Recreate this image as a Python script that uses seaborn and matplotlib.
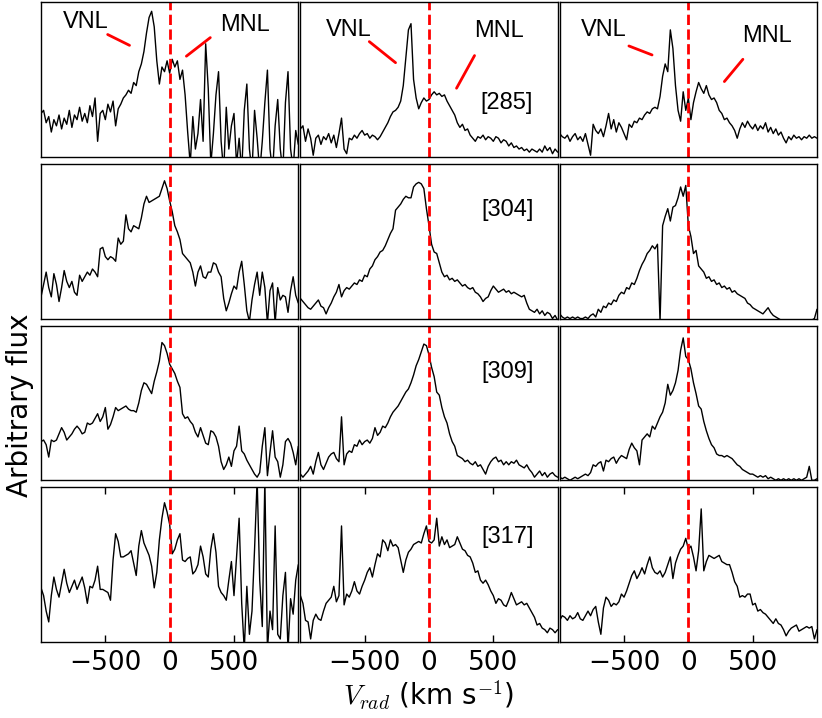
import numpy as np
import pandas as pd
import matplotlib
matplotlib.use("Agg")
import matplotlib.pyplot as plt
import seaborn as sns

# -------------------------
# Data (flux in panel units, 0 = bottom, 1 = top)
# -------------------------
velocity = [
    -1000, -980, -960, -940, -920, -900, -880, -860, -840, -820,
    -800, -780, -760, -740, -720, -700, -680, -660, -640, -620,
    -600, -580, -560, -540, -520, -500, -480, -460, -440, -420,
    -400, -380, -360, -340, -320, -300, -280, -260, -240, -220,
    -200, -180, -160, -140, -120, -100, -80, -60, -40, -20,
    0, 20, 40, 60, 80, 100, 120, 140, 160, 180,
    200, 220, 240, 260, 280, 300, 320, 340, 360, 380,
    400, 420, 440, 460, 480, 500, 520, 540, 560, 580,
    600, 620, 640, 660, 680, 700, 720, 740, 760, 780,
    800, 820, 840, 860, 880, 900, 920, 940, 960, 980,
    1000,
]

f285_1 = [
    0.28, 0.30, 0.22, 0.26, 0.16, 0.24, 0.20, 0.27, 0.18, 0.25,
    0.21, 0.30, 0.19, 0.27, 0.24, 0.32, 0.23, 0.28, 0.22, 0.33,
    0.26, 0.38, 0.10, 0.28, 0.30, 0.24, 0.34, 0.29, 0.36, 0.20,
    0.31, 0.34, 0.38, 0.40, 0.43, 0.41, 0.48, 0.46, 0.55, 0.60,
    0.68, 0.80, 0.90, 0.94, 0.84, 0.62, 0.47, 0.58, 0.55, 0.62,
    0.54, 0.63, 0.58, 0.62, 0.50, 0.56, 0.40, 0.16, -0.05, 0.26,
    0.05, 0.15, 0.37, 0.10, 0.73, 0.44, -0.05, 0.15, 0.40, 0.55,
    0.10, -0.10, 0.32, 0.05, 0.20, 0.28, -0.05, 0.12, -0.10, 0.30,
    0.47, 0.05, -0.10, 0.30, 0.12, -0.10, 0.10, 0.35, 0.56, 0.05,
    -0.10, 0.20, 0.37, 0.05, -0.10, 0.35, 0.55, 0.05, -0.08, 0.17,
    0.08,
]
f285_2 = [
    0.18, 0.20, 0.10, 0.18, 0.12, 0.01, 0.12, 0.14, 0.08, 0.13,
    0.11, 0.15, 0.09, 0.14, 0.06, 0.15, 0.25, 0.05, 0.02, 0.12,
    0.11, 0.14, 0.12, 0.15, 0.17, 0.14, 0.15, 0.12, 0.14, 0.13,
    0.11, 0.13, 0.16, 0.19, 0.22, 0.26, 0.29, 0.30, 0.32, 0.36,
    0.46, 0.64, 0.82, 0.86, 0.50, 0.38, 0.31, 0.35, 0.38, 0.36,
    0.37, 0.40, 0.42, 0.40, 0.41, 0.39, 0.40, 0.36, 0.33, 0.30,
    0.27, 0.22, 0.19, 0.21, 0.17, 0.18, 0.14, 0.12, 0.10, 0.13,
    0.12, 0.14, 0.11, 0.13, 0.12, 0.10, 0.13, 0.12, 0.09, 0.11,
    0.10, 0.07, 0.09, 0.06, 0.07, 0.05, 0.06, 0.04, 0.05, 0.03,
    0.05, 0.04, 0.03, 0.05, 0.03, 0.07, 0.04, 0.06, 0.02, 0.05,
    0.03,
]
f285_3 = [
    0.15, 0.13, 0.12, 0.14, 0.10, 0.13, 0.15, 0.11, 0.13, 0.10,
    0.15, 0.08, 0.01, 0.21, 0.17, 0.15, 0.18, 0.13, 0.20, 0.28,
    0.18, 0.24, 0.16, 0.22, 0.19, 0.15, 0.11, 0.21, 0.19, 0.23,
    0.22, 0.25, 0.24, 0.27, 0.29, 0.28, 0.31, 0.32, 0.31, 0.39,
    0.52, 0.60, 0.55, 0.82, 0.70, 0.46, 0.30, 0.23, 0.42, 0.30,
    0.38, 0.24, 0.35, 0.42, 0.48, 0.44, 0.41, 0.46, 0.40, 0.37,
    0.38, 0.35, 0.30, 0.28, 0.24, 0.25, 0.22, 0.20, 0.17, 0.12,
    0.18, 0.22, 0.19, 0.23, 0.20, 0.18, 0.21, 0.17, 0.20, 0.18,
    0.22, 0.16, 0.19, 0.15, 0.18, 0.14, 0.16, 0.12, 0.09, 0.13,
    0.11, 0.14, 0.12, 0.13, 0.11, 0.13, 0.12, 0.14, 0.12, 0.13,
    0.12,
]

f304_1 = [
    0.14, 0.22, 0.30, 0.20, 0.14, 0.29, 0.22, 0.11, 0.20, 0.31,
    0.24, 0.20, 0.24, 0.17, 0.15, 0.28, 0.24, 0.27, 0.30, 0.28,
    0.32, 0.30, 0.27, 0.45, 0.46, 0.40, 0.38, 0.40, 0.39, 0.37,
    0.52, 0.48, 0.50, 0.67, 0.58, 0.56, 0.60, 0.59, 0.58, 0.65,
    0.74, 0.79, 0.75, 0.76, 0.77, 0.78, 0.79, 0.84, 0.89, 0.84,
    0.76, 0.69, 0.60, 0.56, 0.51, 0.42, 0.40, 0.38, 0.36, 0.30,
    0.21, 0.30, 0.34, 0.27, 0.26, 0.30, 0.30, 0.36, 0.35, 0.30,
    0.27, 0.13, 0.05, 0.10, 0.16, 0.21, 0.19, 0.30, 0.37, 0.22,
    0.05, -0.02, 0.12, 0.22, 0.30, 0.15, 0.30, 0.20, -0.03, 0.18,
    0.23, -0.03, 0.20, 0.12, 0.15, 0.14, 0.04, 0.18, 0.27, 0.15,
    0.10,
]
f304_2 = [
    0.13, 0.11, 0.09, 0.07, 0.06, 0.08, 0.10, 0.12, 0.08, 0.07,
    0.03, 0.07, 0.10, 0.14, 0.17, 0.22, 0.14, 0.18, 0.20, 0.19,
    0.21, 0.23, 0.22, 0.25, 0.24, 0.28, 0.27, 0.32, 0.34, 0.38,
    0.40, 0.43, 0.44, 0.47, 0.51, 0.55, 0.58, 0.70, 0.72, 0.74,
    0.77, 0.79, 0.78, 0.78, 0.85, 0.87, 0.88, 0.87, 0.84, 0.71,
    0.60, 0.48, 0.43, 0.42, 0.36, 0.30, 0.27, 0.28, 0.25, 0.26,
    0.24, 0.25, 0.23, 0.21, 0.22, 0.20, 0.19, 0.20, 0.17, 0.16,
    0.14, 0.11, 0.13, 0.14, 0.18, 0.21, 0.19, 0.17, 0.18, 0.19,
    0.17, 0.18, 0.16, 0.17, 0.16, 0.15, 0.14, 0.15, 0.10, 0.06,
    0.05, 0.04, 0.06, 0.03, 0.05, 0.02, 0.04, 0.03, 0.00, 0.02,
    -0.01,
]
f304_3 = [
    0.03, 0.01, 0.00, 0.01, 0.00, 0.01, 0.00, 0.01, 0.00, 0.00,
    0.01, 0.00, 0.02, 0.03, 0.01, 0.06, 0.04, 0.08, 0.07, 0.10,
    0.09, 0.12, 0.11, 0.15, 0.17, 0.16, 0.20, 0.19, 0.23, 0.22,
    0.26, 0.31, 0.35, 0.38, 0.42, 0.44, 0.47, 0.45, 0.48, -0.02,
    0.60, 0.66, 0.71, 0.63, 0.72, 0.73, 0.78, 0.85, 0.79, 0.86,
    0.60, 0.53, 0.42, 0.44, 0.34, 0.32, 0.30, 0.26, 0.27, 0.24,
    0.25, 0.22, 0.23, 0.20, 0.21, 0.19, 0.20, 0.17, 0.18, 0.16,
    0.15, 0.14, 0.13, 0.10, 0.09, 0.07, 0.06, 0.05, 0.04, 0.03,
    0.05, 0.07, 0.04, 0.02, 0.01, 0.00, -0.01, -0.01, -0.01, -0.01,
    -0.01, -0.01, -0.01, -0.01, -0.01, -0.01, -0.01, -0.01, -0.01, 0.00,
    0.06,
]

f309_1 = [
    0.25, 0.26, 0.23, 0.15, 0.26, 0.25, 0.26, 0.30, 0.34, 0.31,
    0.26, 0.28, 0.30, 0.33, 0.35, 0.33, 0.30, 0.31, 0.37, 0.36,
    0.37, 0.40, 0.43, 0.38, 0.41, 0.47, 0.33, 0.36, 0.41, 0.47,
    0.45, 0.46, 0.47, 0.48, 0.46, 0.45, 0.45, 0.44, 0.50, 0.58,
    0.63, 0.62, 0.59, 0.56, 0.64, 0.70, 0.77, 0.89, 0.87, 0.82,
    0.75, 0.72, 0.69, 0.64, 0.60, 0.43, 0.40, 0.41, 0.38, 0.36,
    0.31, 0.28, 0.34, 0.29, 0.24, 0.23, 0.32, 0.31, 0.28, 0.22,
    0.12, 0.07, 0.10, 0.15, 0.09, 0.19, 0.22, 0.35, 0.19, 0.17,
    0.13, 0.10, 0.07, 0.04, 0.02, 0.05, 0.22, 0.34, 0.03, 0.18,
    0.32, 0.15, 0.12, 0.02, 0.10, 0.25, 0.27, 0.24, 0.18, 0.10,
    0.22,
]
f309_2 = [
    0.04, 0.02, 0.04, 0.06, 0.09, 0.04, 0.12, 0.18, 0.10, 0.07,
    0.11, 0.15, 0.17, 0.18, 0.14, 0.12, 0.41, 0.10, 0.17, 0.19,
    0.18, 0.23, 0.22, 0.26, 0.23, 0.25, 0.26, 0.24, 0.27, 0.34,
    0.29, 0.31, 0.35, 0.34, 0.37, 0.41, 0.44, 0.46, 0.48, 0.51,
    0.54, 0.57, 0.59, 0.63, 0.68, 0.74, 0.78, 0.83, 0.88, 0.87,
    0.81, 0.73, 0.67, 0.57, 0.55, 0.47, 0.41, 0.37, 0.30, 0.25,
    0.22, 0.16, 0.15, 0.14, 0.12, 0.13, 0.11, 0.10, 0.12, 0.09,
    0.10, 0.07, 0.04, 0.09, 0.12, 0.14, 0.15, 0.12, 0.13, 0.10,
    0.12, 0.10, 0.12, 0.11, 0.13, 0.10, 0.09, 0.08, 0.10, 0.07,
    0.05, 0.02, 0.04, 0.06, 0.03, 0.05, 0.02, 0.04, 0.05, 0.03,
    0.02,
]
f309_3 = [
    0.02, 0.01, 0.02, 0.01, 0.00, 0.01, 0.02, 0.01, 0.02, 0.03,
    0.04, 0.03, 0.05, 0.10, 0.09, 0.11, 0.12, 0.06, 0.13, 0.12,
    0.14, 0.15, 0.11, 0.14, 0.16, 0.15, 0.14, 0.20, 0.24, 0.21,
    0.19, 0.10, 0.26, 0.28, 0.30, 0.28, 0.35, 0.33, 0.37, 0.41,
    0.44, 0.50, 0.62, 0.55, 0.58, 0.63, 0.71, 0.84, 0.92, 0.80,
    0.78, 0.72, 0.63, 0.56, 0.48, 0.46, 0.38, 0.32, 0.27, 0.23,
    0.21, 0.17, 0.16, 0.16, 0.15, 0.16, 0.15, 0.14, 0.12, 0.10,
    0.09, 0.07, 0.06, 0.05, 0.04, 0.04, 0.03, 0.02, 0.03, 0.02,
    0.03, 0.01, 0.02, 0.01, 0.00, 0.01, 0.00, 0.01, 0.00, 0.01,
    0.00, 0.01, 0.00, 0.01, 0.00, 0.01, 0.02, 0.09, 0.00, 0.00,
    0.01,
]

f317_1 = [
    0.35, 0.30, 0.20, 0.13, 0.30, 0.42, 0.34, 0.29, 0.38, 0.47,
    0.38, 0.32, 0.36, 0.40, 0.34, 0.38, 0.42, 0.35, 0.25, 0.36,
    0.35, 0.40, 0.49, 0.34, 0.34, 0.33, 0.32, 0.27, 0.53, 0.70,
    0.65, 0.55, 0.55, 0.56, 0.57, 0.59, 0.51, 0.43, 0.62, 0.72,
    0.64, 0.60, 0.56, 0.49, 0.35, 0.45, 0.66, 0.80, 0.90, 0.84,
    0.76, 0.57, 0.60, 0.66, 0.70, 0.53, 0.52, 0.54, 0.55, 0.44,
    0.46, 0.50, 0.62, 0.55, 0.44, 0.42, 0.60, 0.70, 0.58, 0.36,
    0.32, 0.30, 0.27, 0.40, 0.52, 0.30, 0.55, 0.80, 0.25, -0.05,
    0.36, 0.05, 0.20, 0.60, 1.05, 0.40, 0.10, 1.05, -0.05, 0.20,
    0.08, 0.75, 0.05, 0.02, 0.30, 0.45, -0.05, 0.28, 0.18, 0.40,
    0.50,
]
f317_2 = [
    0.30, 0.25, 0.14, 0.13, 0.02, 0.14, 0.18, 0.15, 0.14, 0.20,
    0.25, 0.27, 0.29, 0.36, 0.26, 0.30, 0.75, 0.24, 0.31, 0.29,
    0.33, 0.39, 0.33, 0.31, 0.36, 0.40, 0.45, 0.48, 0.42, 0.50,
    0.57, 0.55, 0.66, 0.64, 0.59, 0.66, 0.62, 0.63, 0.61, 0.53,
    0.45, 0.53, 0.58, 0.60, 0.63, 0.64, 0.65, 0.64, 0.70, 0.75,
    0.65, 0.64, 0.66, 0.80, 0.62, 0.68, 0.63, 0.66, 0.61, 0.62,
    0.63, 0.68, 0.64, 0.60, 0.59, 0.56, 0.55, 0.51, 0.45, 0.46,
    0.40, 0.38, 0.40, 0.37, 0.33, 0.30, 0.25, 0.28, 0.27, 0.24,
    0.23, 0.27, 0.32, 0.28, 0.24, 0.25, 0.26, 0.24, 0.25, 0.22,
    0.19, 0.16, 0.11, 0.12, 0.09, 0.08, 0.06, 0.09, 0.08, 0.06,
    0.08,
]
f317_3 = [
    0.14, 0.17, 0.16, 0.14, 0.17, 0.15, 0.16, 0.19, 0.15, 0.14,
    0.17, 0.20, 0.17, 0.21, 0.23, 0.13, 0.05, 0.22, 0.29, 0.27,
    0.23, 0.25, 0.24, 0.26, 0.31, 0.29, 0.33, 0.38, 0.43, 0.46,
    0.41, 0.44, 0.48, 0.44, 0.50, 0.55, 0.48, 0.45, 0.44, 0.46,
    0.42, 0.45, 0.50, 0.55, 0.41, 0.51, 0.56, 0.60, 0.62, 0.67,
    0.60, 0.62, 0.55, 0.46, 0.59, 0.86, 0.46, 0.52, 0.56, 0.55,
    0.54, 0.55, 0.56, 0.52, 0.51, 0.50, 0.50, 0.45, 0.39, 0.36,
    0.29, 0.30, 0.29, 0.31, 0.31, 0.24, 0.25, 0.20, 0.21, 0.19,
    0.18, 0.16, 0.14, 0.12, 0.15, 0.12, 0.11, 0.08, 0.04, 0.07,
    0.09, 0.10, 0.11, 0.07, 0.08, 0.09, 0.10, 0.09, 0.10, 0.02,
    0.08,
]

row_labels = ["[285]", "[304]", "[309]", "[317]"]
spectra = [
    [f285_1, f285_2, f285_3],
    [f304_1, f304_2, f304_3],
    [f309_1, f309_2, f309_3],
    [f317_1, f317_2, f317_3],
]
xtick_values = [-500, 0, 500]

# long table for seaborn
frames = []
for r, row in enumerate(spectra):
    for c, flux in enumerate(row):
        frames.append(pd.DataFrame({"velocity": velocity, "flux": flux,
                                    "row": r, "col": c}))
df = pd.concat(frames, ignore_index=True)

# -------------------------
# Style
# -------------------------
sns.set_style("ticks")
plt.rcParams["font.family"] = ["DejaVu Sans"]
plt.rcParams["mathtext.fontset"] = "cm"
plt.rcParams["axes.linewidth"] = 1.0
plt.rcParams["axes.edgecolor"] = "black"
plt.rcParams["text.color"] = "black"
plt.rcParams["axes.labelcolor"] = "black"
plt.rcParams["xtick.color"] = "black"
plt.rcParams["ytick.color"] = "black"

fig, axes = plt.subplots(4, 3, figsize=(8.22, 7.18), dpi=100)
fig.subplots_adjust(left=0.0499, right=0.9939, top=0.9972, bottom=0.1058,
                    hspace=0.045, wspace=0.008)

label_font = dict(fontsize=17, color="black",
                  family=["Liberation Sans", "DejaVu Sans"])

# VNL / MNL annotation positions (axes fraction) for the top row
vnl_text = [(0.174, 0.87), (0.188, 0.82), (0.172, 0.82)]
vnl_line = [((0.259, 0.344), (0.79, 0.72)),
            ((0.268, 0.370), (0.744, 0.608)),
            ((0.269, 0.359), (0.716, 0.658))]
mnl_text = [(0.793, 0.85), (0.774, 0.81), (0.805, 0.78)]
mnl_line = [((0.658, 0.565), (0.77, 0.65)),
            ((0.677, 0.607), (0.654, 0.443)),
            ((0.712, 0.640), (0.63, 0.486))]
tag_pos = [(0.80, 0.35), (0.805, 0.70), (0.805, 0.70), (0.805, 0.68)]

for r in range(4):
    for c in range(3):
        ax = axes[r, c]
        sub = df[(df["row"] == r) & (df["col"] == c)]
        sns.lineplot(data=sub, x="velocity", y="flux", ax=ax,
                     color="black", linewidth=1.0, estimator=None)
        ax.axvline(0, color="red", linestyle="--", linewidth=2)
        ax.set_xlim(-1000, 1000)
        ax.set_ylim(0, 1)
        ax.set_yticks([])
        ax.set_xlabel("")
        ax.set_ylabel("")
        for s in ax.spines.values():
            s.set_visible(True)
            s.set_color("black")
        if r == 3:
            ax.set_xticks(xtick_values)
            ax.tick_params(axis="x", direction="in", top=True, bottom=True,
                           length=5, width=1, labelsize=19, pad=6,
                           colors="black")
        else:
            ax.set_xticks([])

        if c == 1:
            tx, ty = tag_pos[r]
            ax.text(tx, ty, row_labels[r], transform=ax.transAxes,
                    ha="center", va="center", **label_font)

        if r == 0:
            ax.text(*vnl_text[c], "VNL", transform=ax.transAxes,
                    ha="center", va="center", **label_font)
            ax.plot(*vnl_line[c], transform=ax.transAxes, color="red", lw=2)
            ax.text(*mnl_text[c], "MNL", transform=ax.transAxes,
                    ha="center", va="center", **label_font)
            ax.plot(*mnl_line[c], transform=ax.transAxes, color="red", lw=2)

axes[3, 1].set_xlabel(r"$V_{rad}$ (km s$^{-1}$)", fontsize=20, color="black",
                      labelpad=2)
fig.text(0.024, 0.436, "Arbitrary flux", rotation=90, fontsize=20,
         ha="center", va="center", color="black")

fig.savefig("out.png", dpi=100)
